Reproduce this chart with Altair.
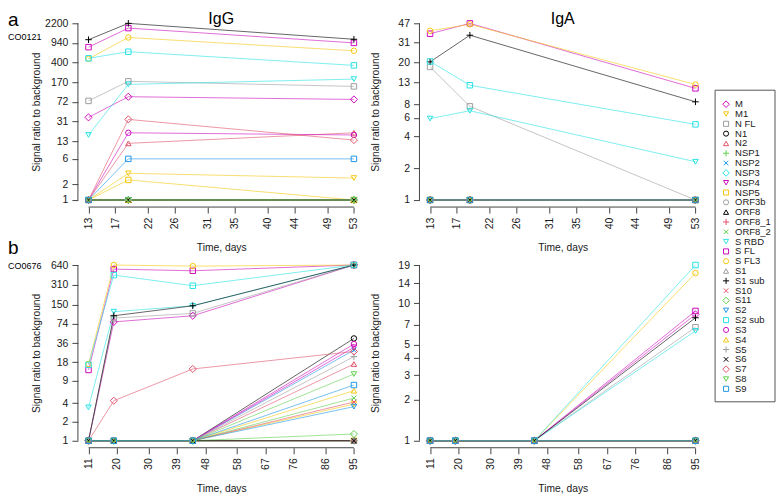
import math
import altair as alt
import pandas as pd

FONT = "Liberation Sans"
AX = "#444444"
TXT = "#1a1a1a"

series = ["M", "M1", "N FL", "N1", "N2", "NSP1", "NSP2", "NSP3", "NSP4", "NSP5",
          "ORF3b", "ORF8", "ORF8_1", "ORF8_2", "S RBD", "S FL", "S FL3", "S1", "S1 sub", "S10",
          "S11", "S2", "S2 sub", "S3", "S4", "S5", "S6", "S7", "S8", "S9"]

MAG, GOLD, GRAY, BLK = "#CD0BBC", "#F5C710", "#9E9E9E", "#000000"
PINK, GRN, BLU, CYN = "#DF536B", "#61D04F", "#2297E6", "#28E2E5"
colors = [MAG, GOLD, GRAY, BLK, PINK, GRN, BLU, CYN, MAG, GOLD,
          GRAY, BLK, PINK, GRN, CYN, MAG, GOLD, GRAY, BLK, PINK,
          GRN, BLU, CYN, MAG, GOLD, GRAY, BLK, PINK, GRN, BLU]

DIA = "M-1.3,0L0,-1.3L1.3,0L0,1.3Z"
TDN = "triangle-down"
SQ = "square"
CIR = "circle"
TUP = "triangle-up"
PLUS = "M-1.2,0L1.2,0M0,-1.2L0,1.2"
XX = "M-0.9,-0.9L0.9,0.9M-0.9,0.9L0.9,-0.9"
shapes = [DIA, TDN, SQ, CIR, TUP, PLUS, XX, DIA, TDN, SQ,
          CIR, TUP, PLUS, XX, TDN, SQ, CIR, TUP, PLUS, XX,
          DIA, TDN, SQ, CIR, TUP, PLUS, XX, DIA, TDN, SQ]

# ---- data: patient CO0121 (days 13, 19, 53); series not listed stay at 1 ----
days_a = [13, 19, 53]
igg_a = {
    "M": [36.6, 90, 80], "M1": [1, 3.2, 2.6], "N FL": [75, 176, 141],
    "N2": [1, 11.8, 18.7], "NSP5": [1, 2.4, 1], "S RBD": [17, 154, 194],
    "S FL": [780, 1790, 940], "S FL3": [470, 1190, 667], "S1 sub": [1080, 2200, 1100],
    "S2 sub": [480, 640, 353], "S3": [1, 18.7, 17], "S7": [1, 33.5, 13.6], "S9": [1, 6, 6],
}
iga_a = {
    "S FL3": [40, 46, 12.4], "S FL": [37.5, 47, 11.4], "S1 sub": [20.3, 36.3, 8.5],
    "S2 sub": [20.5, 12.2, 5.2], "N FL": [18.2, 7.7, 1], "S RBD": [5.9, 7.0, 2.3],
}
# ---- data: patient CO0676 (days 11, 19, 44, 95) ----
days_b = [11, 19, 44, 95]
igg_b = {
    "M": [1, 79, 99, 640], "M1": [1, 1, 1, 3.85], "N FL": [1, 91, 108, 640],
    "N1": [1, 1, 1, 43], "N2": [1, 1, 1, 16.8], "NSP2": [1, 1, 1, 28], "NSP4": [1, 1, 1, 31],
    "ORF8_2": [1, 1, 1, 4.8], "S RBD": [3.4, 115, 143, 640], "S FL": [13.5, 550, 518, 640],
    "S FL3": [16.8, 640, 615, 640], "S1 sub": [1, 99, 143, 640], "S10": [1, 1, 1, 4.15],
    "S11": [1, 1, 1, 1.28], "S2": [1, 1, 1, 3.5], "S2 sub": [16.3, 442, 299, 640],
    "S3": [1, 1, 1, 35], "S4": [1, 1, 1, 6.3], "S5": [1, 1, 1, 22],
    "S7": [1, 4.35, 14, 26.6], "S8": [1, 1, 1, 11.6], "S9": [1, 1, 1, 7.75],
}
iga_b = {
    "S2 sub": [1, 1, 1, 19], "S FL3": [1, 1, 1, 16.6], "S FL": [1, 1, 1, 8.8],
    "M": [1, 1, 1, 8.3], "S1 sub": [1, 1, 1, 7.85], "N FL": [1, 1, 1, 6.7],
    "S RBD": [1, 1, 1, 6.3],
}

xticks_a = [13, 17, 22, 26, 31, 35, 40, 44, 49, 53]
xticks_b = [11, 20, 30, 39, 48, 58, 67, 76, 86, 95]
yticks_igg_a = [1, 2, 6, 13, 31, 72, 170, 400, 940, 2200]
yticks_iga_a = [1, 2, 4, 6, 8, 13, 20, 31, 47]
yticks_igg_b = [1, 2, 4, 9, 18, 36, 74, 150, 310, 640]
yticks_iga_b = [1, 2, 3, 4, 5, 7, 10, 14, 19]


def make_df(days, table):
    rows = []
    for s in series:
        vals = table.get(s, [1] * len(days))
        for d, v in zip(days, vals):
            rows.append({"series": s, "day": d, "value": v})
    return pd.DataFrame(rows)


COLOR_SCALE = alt.Scale(domain=series, range=colors)
SHAPE_SCALE = alt.Scale(domain=series, range=shapes)
NOVIEW = alt.ViewBackground(stroke=None)
W = 287


def panel(days, table, xticks, yticks, h, ytitle_x, texts=()):
    df = make_df(days, table)
    x0, x1 = min(days), max(days)
    xpad = 0.04 * (x1 - x0)
    L = math.log(df["value"].max())
    xs = alt.Scale(domain=[x0 - xpad, x1 + xpad], nice=False, zero=False)
    ys = alt.Scale(type="log", domain=[math.exp(-0.04 * L), math.exp(1.04 * L)], nice=False)
    xax = alt.Axis(values=xticks, tickCount=len(xticks), title="Time, days", labelAngle=270,
                   domain=False, grid=False, tickSize=6, tickColor=AX, labelPadding=4,
                   labelFont=FONT, labelFontSize=10.5, labelColor=TXT, titleFont=FONT,
                   titleFontSize=10.3, titleFontWeight="normal", titleColor=TXT, titlePadding=14,
                   labelOverlap=False, labelFlush=False, labelBound=False, format="d")
    yax = alt.Axis(values=yticks, tickCount=len(yticks), title="Signal ratio to background",
                   domain=False, grid=False, tickSize=6, tickColor=AX, labelPadding=4,
                   labelFont=FONT, labelFontSize=10.5, labelColor=TXT, titleFont=FONT,
                   titleFontSize=10.3, titleFontWeight="normal", titleColor=TXT, titleAngle=270,
                   titleX=ytitle_x, titleY=h / 2, titleAlign="center", titleBaseline="middle",
                   labelOverlap=False, labelFlush=False, labelBound=False, format="d")
    base = alt.Chart(df)
    lines = base.mark_line(strokeWidth=1, opacity=0.6).encode(
        x=alt.X("day:Q", scale=xs, axis=xax),
        y=alt.Y("value:Q", scale=ys, axis=yax),
        stroke=alt.Stroke("series:N", scale=COLOR_SCALE, legend=None),
    )
    points = base.mark_point(filled=False, size=30, strokeWidth=1, opacity=1).encode(
        x=alt.X("day:Q", scale=xs, axis=xax),
        y=alt.Y("value:Q", scale=ys, axis=yax),
        color=alt.Color("series:N", scale=COLOR_SCALE, legend=None),
        shape=alt.Shape("series:N", scale=SHAPE_SCALE, legend=None),
    )
    one = pd.DataFrame({"k": [0]})
    yrule = alt.Chart(one).mark_rule(color=AX, strokeWidth=1).encode(
        x=alt.value(0), y=alt.datum(yticks[0]), y2=alt.datum(yticks[-1]))
    xrule = alt.Chart(one).mark_rule(color=AX, strokeWidth=1).encode(
        x=alt.datum(xticks[0]), x2=alt.datum(xticks[-1]), y=alt.value(h))
    layers = [lines, points, yrule, xrule]
    for (txt, size, xx, yy, align) in texts:
        layers.append(alt.Chart(one).mark_text(text=txt, fontSize=size, font=FONT, align=align,
                                               baseline="top", color="black").encode(
            x=alt.value(xx), y=alt.value(yy)))
    return alt.layer(*layers).properties(width=W, height=h, view=NOVIEW)


H1, H2 = 191, 190
pA = panel(days_a, igg_a, xticks_a, yticks_igg_a, H1, -41,
           texts=[("IgG", 16, W / 2, -5, "center"), ("a", 19, -70, -5, "left"),
                  ("CO0121", 9, -70, 17, "left"), ("b", 19, -70, 223, "left")])
pB = panel(days_a, iga_a, xticks_a, yticks_iga_a, H1, -44,
           texts=[("IgA", 16, W / 2, -5, "center")])
pC = panel(days_b, igg_b, xticks_b, yticks_igg_b, H2, -41, texts=[("CO0676", 9, -70, 4, "left")])
pD = panel(days_b, iga_b, xticks_b, yticks_iga_b, H2, -44)

# ---- legend (one entry per series, drawn with the shared colour/shape scales) ----
LW, LH = 60, 400
leg_df = pd.DataFrame({"series": series})
leg_y = alt.Y("series:N", scale=alt.Scale(type="point", domain=series, range=[88, 373], padding=0),
              axis=None)
leg_box = alt.Chart(pd.DataFrame({"k": [0]})).mark_rect(
    fill="white", stroke="#555555", strokeWidth=1).encode(
    x=alt.value(0), x2=alt.value(LW), y=alt.value(74), y2=alt.value(386))
leg_pts = alt.Chart(leg_df).mark_point(filled=False, size=26, strokeWidth=1, opacity=1).encode(
    x=alt.value(11), y=leg_y,
    color=alt.Color("series:N", scale=COLOR_SCALE, legend=None),
    shape=alt.Shape("series:N", scale=SHAPE_SCALE, legend=None))
leg_txt = alt.Chart(leg_df).mark_text(align="left", baseline="middle", fontSize=9.5, font=FONT,
                                      color=TXT).encode(
    x=alt.value(20), y=leg_y, text="series:N")
legend = alt.layer(leg_box, leg_pts, leg_txt).properties(width=LW, height=LH, view=NOVIEW)

row1 = alt.hconcat(pA, pB, spacing=6)
row2 = alt.hconcat(pC, pD, spacing=6)
grid = alt.vconcat(row1, row2, spacing=-13)
chart = alt.hconcat(grid, legend, spacing=8).resolve_scale(
    color="shared", shape="shared", stroke="shared").properties(
    padding={"top": 3, "left": 0, "right": 0, "bottom": 0}, background="white"
).configure_view(stroke=None).configure(font=FONT)

chart.save("out.html", embed_options={"renderer": "svg", "actions": False})
